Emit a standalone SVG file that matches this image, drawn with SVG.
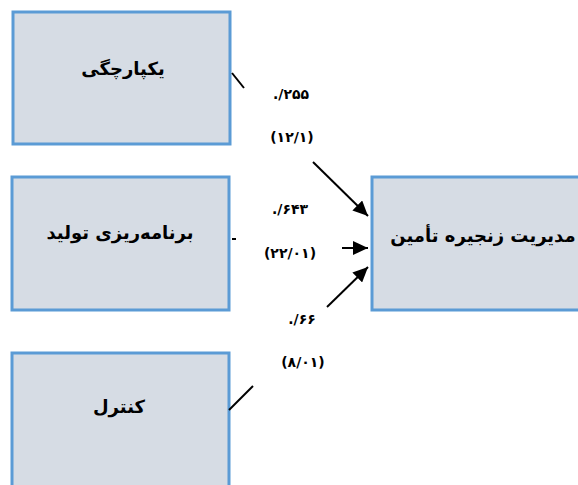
<svg xmlns="http://www.w3.org/2000/svg" width="578" height="485" viewBox="0 0 578 485">
<defs>
<style>
.box{fill:#D6DCE4;stroke:#5B9BD5;stroke-width:3}
.lbl{font-family:"DejaVu Sans","Noto Sans",sans-serif;font-weight:bold;font-size:18px;fill:#000;text-anchor:middle;direction:rtl}
.num{font-family:"DejaVu Sans","Noto Sans",sans-serif;font-weight:bold;font-size:14px;fill:#000;text-anchor:middle;direction:ltr;unicode-bidi:bidi-override}
.ln{stroke:#000;stroke-width:2;fill:none}
</style>
<marker id="ah" markerUnits="userSpaceOnUse" markerWidth="16" markerHeight="14" refX="15" refY="7" orient="auto">
<path d="M0,0 L15,7 L0,14 z" fill="#000"/>
</marker>
</defs>
<rect width="578" height="485" fill="#fff"/>
<g id="node-integration">
<rect class="box" x="13" y="12" width="217" height="132"/>
<text class="lbl" x="123" y="75">یکپارچگی</text>
</g>
<g id="node-planning">
<rect class="box" x="12" y="177" width="217" height="133"/>
<text class="lbl" x="120" y="239">برنامه‌ریزی تولید</text>
</g>
<g id="node-control">
<rect class="box" x="12" y="353" width="217" height="140"/>
<text class="lbl" x="119" y="413">کنترل</text>
</g>
<g id="node-scm">
<rect class="box" x="372" y="177" width="210" height="133"/>
<text class="lbl" x="483" y="242">مدیریت زنجیره تأمین</text>
</g>
<g id="connectors">
<line class="ln" x1="232" y1="73" x2="244" y2="88"/>
<line class="ln" x1="313" y1="162" x2="368" y2="216" marker-end="url(#ah)"/>
<line class="ln" x1="232" y1="239" x2="236" y2="239"/>
<line class="ln" x1="342" y1="248" x2="368" y2="248" marker-end="url(#ah)"/>
<line class="ln" x1="229" y1="410" x2="253" y2="386"/>
<line class="ln" x1="327" y1="307" x2="368" y2="267" marker-end="url(#ah)"/>
</g>
<g id="labels">
<text class="num" x="291" y="99">./۲۵۵</text>
<text class="num" x="292" y="142">(۱۲/۱)</text>
<text class="num" x="290" y="214">./۶۴۳</text>
<text class="num" x="290" y="258">(۲۲/۰۱)</text>
<text class="num" x="302" y="324">./۶۶</text>
<text class="num" x="303" y="367">(۸/۰۱)</text>
</g>
</svg>
